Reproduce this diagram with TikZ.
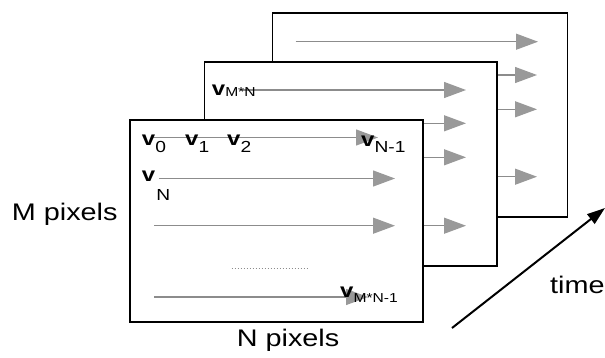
\documentclass[tikz,border=0pt]{standalone}
\usepackage{fontspec}
\setmainfont{Liberation Sans}[FakeStretch=1.2]
\usetikzlibrary{arrows.meta}
\definecolor{shaftgray}{gray}{0.55}
\definecolor{headgray}{gray}{0.6}
\newcommand\vchar{\textbf{v}}
\newcommand\lowsub[3]{\raisebox{-#1}{\fontsize{#2}{#2}\selectfont #3}}
\begin{document}
\begin{tikzpicture}[x=1pt,y=-1pt,
  frame/.style={draw=black,line width=1.6pt,fill=white},
  scan/.style={draw=shaftgray,line width=1.2pt,-{Triangle[length=22pt,width=16pt,color=headgray]}},
  lab/.style={anchor=base west,inner sep=0pt,font=\fontsize{20}{22}\selectfont},
  txt/.style={anchor=base west,inner sep=0pt,font=\fontsize{24}{26}\selectfont}]
\useasboundingbox (0,0) rectangle (605,357);
% back frame
\draw[frame] (272.6,12.7) rectangle (567.5,217);
\draw[scan] (295.7,41.7) -- (538,41.7);
\draw[scan] (300,75) -- (537,75);
\draw[scan] (300,109.3) -- (537,109.3);
\draw[scan] (300,176.7) -- (537,176.7);
% middle frame
\draw[frame] (204.6,62) rectangle (497,266);
\draw[scan] (242,90) -- (466,90);
\draw[scan] (230,123.3) -- (466,123.3);
\draw[scan] (230,157.3) -- (466,157.3);
\draw[scan] (230,225.7) -- (466,225.7);
% front frame
\draw[frame] (130,120) rectangle (423,322);
\draw[scan] (152,137.5) -- (378,137.5);
\draw[scan] (159,178.5) -- (395,178.5);
\draw[scan] (154,225.7) -- (395,225.7);
\draw[scan] (154,297) -- (368,297);
\draw[shaftgray,line width=1pt,dotted] (231.7,268) -- (309,268);
% labels
\node[lab] (vMN) at (211.7,95) {\vchar\lowsub{1pt}{13}{M*N}};
\node[lab] (v0) at (141.7,145) {\vchar\lowsub{7pt}{16}{0}};
\node[lab] (v1) at (185,145) {\vchar\lowsub{7pt}{16}{1}};
\node[lab] (v2) at (227,145) {\vchar\lowsub{7pt}{16}{2}};
\node[lab] (vN1) at (361,146) {\vchar\lowsub{6pt}{16}{N-1}};
\node[lab] (vN) at (141.7,181) {\vchar\hspace{1pt}\lowsub{19pt}{16}{N}};
\node[lab] (vMN1) at (340,297) {\vchar\lowsub{5pt}{13}{M*N-1}};
\node[txt] (mpix) at (11.7,220) {M pixels};
\node[txt] (npix) at (236.7,346.7) {N pixels};
\node[txt] (time) at (550,293) {time};
% time arrow
\coordinate (tstart) at (452,328);
\coordinate (tend) at (605,208);
\draw[black,line width=2pt,-{Triangle[length=18pt,width=12pt]}] (tstart) -- (tend);
\end{tikzpicture}
\end{document}
